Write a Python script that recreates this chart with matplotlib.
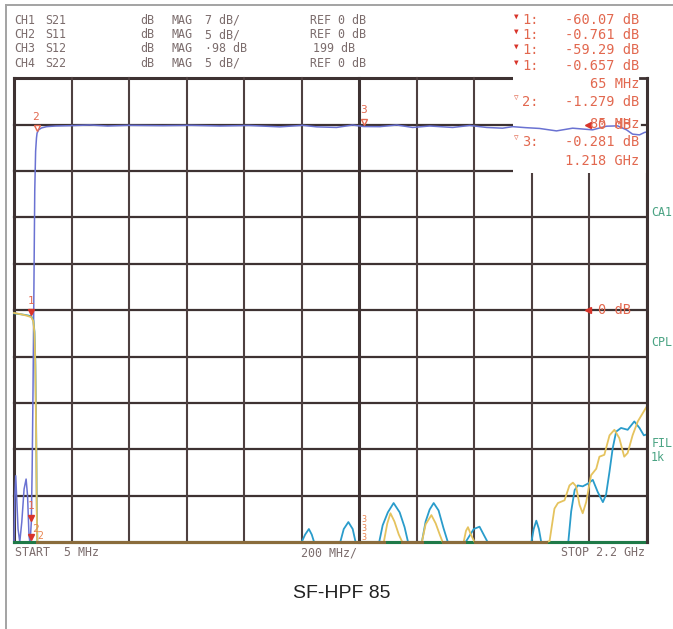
import numpy as np
import matplotlib
matplotlib.use('Agg')
import matplotlib.pyplot as plt
from matplotlib.transforms import offset_copy
from matplotlib.patches import Rectangle
from matplotlib.lines import Line2D

# sweep: 5 MHz .. 2.2 GHz, 11 divisions, 10 vertical divisions
f_start, f_stop = 5, 2200

# CH1 S21, 7 dB/div, ref 0 dB on division 9
s21_freq = [5, 8, 11, 14, 19, 25, 32, 40, 47, 52, 57, 60, 63, 65, 68,
            71, 74, 77, 80, 83, 85, 90, 100, 118, 150, 200, 268, 330, 400, 521,
            620, 720, 820, 927, 1007, 1055, 1124, 1180, 1218, 1274, 1333, 1388, 1447, 1527, 1586,
            1645, 1700, 1735, 1780, 1828, 1887, 1943, 2012, 2061, 2099, 2130, 2151, 2175, 2192, 2200]
s21_db = [-63.5, -56, -53, -56, -61, -64, -60, -55, -53.5, -56, -62, -64, -61.5, -60.07, -52,
          -40, -25, -10, -4, -2, -1.279, -0.8, -0.5, -0.3, -0.2, -0.15, -0.05, -0.2, -0.1, -0.15,
          -0.1, -0.2, -0.12, -0.33, -0.1, -0.33, -0.42, -0.05, -0.281, -0.3, -0.05, -0.42, -0.2, -0.42, -0.12,
          -0.42, -0.53, -0.3, -0.45, -0.57, -0.94, -0.53, -0.78, -0.23, -0.18, -0.78, -1.43, -1.54, -1.18, -1.1]

# CH2 S11, 5 dB/div, ref 0 dB on division 5
s11_freq = [5, 30, 50, 65, 72, 76, 79, 82, 84, 86,
            1278, 1288, 1300, 1311, 1325, 1340, 1352, 1360,
            1410, 1420, 1433, 1453, 1468, 1482, 1492, 1500,
            1555, 1565, 1573, 1580, 1590, 1603, 1610,
            1852, 1863, 1880, 1892, 1915, 1932, 1944, 1955, 1967, 1978, 1990,
            2007, 2025, 2036, 2053, 2071, 2088, 2105, 2122, 2134, 2151, 2169, 2200]
s11_db = [-0.3, -0.45, -0.6, -0.761, -1.2, -2.5, -6, -14, -22, -30,
          -30, -25, -23.0, -21.9, -22.8, -24.2, -25.2, -30,
          -30, -25, -23.1, -22.1, -23.0, -24.2, -25.3, -30,
          -30, -25, -23.8, -23.4, -24.2, -25.3, -30,
          -30, -24.9, -21.4, -20.8, -20.5, -18.9, -18.6, -19.0, -21.0, -21.9, -20.7,
          -17.8, -17.1, -15.8, -15.6, -13.5, -12.9, -13.8, -15.8, -15.4, -13.5, -12.0, -10.4]

# CH4 S22, 5 dB/div, ref 0 dB on division 5
s22_freq = [5, 30, 50, 65, 72, 76, 79, 82, 84, 86,
            994, 1003, 1015, 1028, 1038, 1046, 1052,
            1128, 1137, 1149, 1165, 1180, 1190, 1198,
            1262, 1272, 1284, 1302, 1322, 1343, 1360, 1372, 1382,
            1410, 1420, 1433, 1447, 1461, 1478, 1495, 1510, 1520,
            1572, 1582, 1600, 1620, 1636, 1648, 1656,
            1792, 1800, 1808, 1817, 1826, 1834, 1842,
            1918, 1928, 1938, 1950, 1961, 1978, 1996, 2013, 2030, 2048,
            2059, 2071, 2082, 2094, 2111, 2134, 2157, 2175, 2190, 2200]
s22_db = [-0.35, -0.45, -0.55, -0.657, -1.1, -2.3, -5.5, -13, -21, -30,
          -30, -25, -24.2, -23.6, -24.2, -25, -30,
          -30, -25, -23.6, -22.85, -23.6, -25, -30,
          -30, -25, -23.2, -21.8, -20.8, -21.8, -23.4, -25, -30,
          -30, -25, -22.8, -21.5, -20.8, -21.6, -23.5, -25, -30,
          -30, -24.5, -23.6, -23.35, -24.3, -25, -30,
          -30, -25, -23.6, -22.7, -23.6, -25, -30,
          -30, -25, -21.7, -19.4, -18.9, -19.0, -18.7, -18.3, -19.6, -20.7,
          -19.9, -17.4, -14.9, -13.1, -12.7, -12.9, -12.0, -12.7, -13.5, -13.4]

# CH3 S12 sits below the screen the whole sweep
s12_freq = [5, 2200]
s12_db = [-70, -70]

W, H = 673, 629
grid_c = '#3e3232'
red = '#d8342a'
red_txt = '#e2684f'
org = '#e8844f'
gray_txt = '#7b6c6c'
green_txt = '#4aa383'
mono = ['DejaVu Sans Mono', 'DejaVu Sans']


def to_div(db, ref_div, per_div):
    return np.clip(ref_div + np.asarray(db, dtype=float) / per_div, 0, 10)


fig = plt.figure(figsize=(W / 100, H / 100), dpi=100)
ax = fig.add_axes([14 / W, 1 - 542 / H, (646.7 - 14) / W, (542 - 78.3) / H])
ax.set_xlim(f_start, f_stop)
ax.set_ylim(0, 10)
ax.axis('off')

# graticule
for k in range(11):
    ax.axhline(k, color=grid_c, lw=2.2 if k in (0, 10) else 1.6, zorder=1, clip_on=False)
for k, xv in enumerate(np.linspace(f_start, f_stop, 12)):
    lw = 2.2 if k in (0, 6) else 1.5
    ax.axvline(xv, color=grid_c if k in (0, 6) else '#4e4040', lw=lw, zorder=1, clip_on=False)

# marker readout box hides the graticule top right
ax.add_patch(Rectangle((1736, 7.955), f_stop - 1736, 3.0, facecolor='white',
                       edgecolor='none', zorder=2, clip_on=False))
ax.axvline(f_stop, color=grid_c, lw=2.2, zorder=5, clip_on=False)
ax.plot([2178, f_stop], [10, 10], color=grid_c, lw=2.0, zorder=5, clip_on=False)
ax.plot([2182, f_stop], [9, 9], color=grid_c, lw=1.6, zorder=5, clip_on=False)

# traces
y21 = to_div(s21_db, 9, 7)
y11 = to_div(s11_db, 5, 5)
y22 = to_div(s22_db, 5, 5)
y12 = to_div(s12_db, 5, 5)
ax.plot(s21_freq, y21, color='#6a72d2', lw=1.1, zorder=3, clip_on=False)
ax.plot(s22_freq, y22, color='#2a9ccb', lw=1.3, zorder=3.1, clip_on=False)
ax.plot(s12_freq, y12, color='#1f7a48', lw=2.2, zorder=3.4, clip_on=False)
ax.plot(s11_freq, y11, color='#e5c35e', lw=1.3, zorder=3.5, clip_on=False)
floor11 = np.where(y11 <= 0, 0.0, np.nan)
ax.plot(s11_freq, floor11, color='#8a6c3c', lw=2.2, zorder=3.6, clip_on=False)

# markers
tr_up = offset_copy(ax.transData, fig=fig, x=0, y=3.5, units='points')


def marker(f, y, filled, color, label, dx=0, dy=8, lcol=None):
    ax.plot([f], [y], ls='none', marker='v', ms=5, mfc=color if filled else 'white',
            mec=color, mew=1, transform=tr_up, clip_on=False, zorder=6)
    if label:
        ax.annotate(label, (f, y), xytext=(dx, dy), textcoords='offset points',
                    ha='center', va='bottom', fontsize=8, color=lcol or color,
                    family=mono, zorder=6)


marker(65, to_div(-60.07, 9, 7), True, red, '1', lcol=red_txt)
marker(65, to_div(-0.761, 5, 5), True, red, '1', lcol=red_txt)
marker(65, 0, True, red, '2', dx=3, dy=6, lcol=org)
marker(85, to_div(-1.279, 9, 7), False, red_txt, '2', dx=-1)
marker(1218, to_div(-0.281, 9, 7), False, red_txt, '3')
for dy in (0, 6.5, 13):
    ax.annotate('3', (1218, 0), xytext=(0, dy), textcoords='offset points', ha='center',
                va='bottom', fontsize=6, color=org, family=mono, zorder=6)
ax.annotate('2', (85, 0), xytext=(2, 1), textcoords='offset points', ha='center',
            va='bottom', fontsize=7, color=org, family=mono, zorder=6)

# reference level pointers
for ref in (9, 5):
    ax.plot([1996], [ref], ls='none', marker='<', ms=5, color=red, zorder=6, clip_on=False)
    ax.annotate('0 dB', (1996, ref), xytext=(7, 0), textcoords='offset points',
                va='center', fontsize=9.8, color=red_txt, family=mono, zorder=6)

# side labels
ytr = ax.get_yaxis_transform()
for txt, yv in [('CA1', 7.11), ('CPL', 4.31), ('FIL', 2.13), ('1k', 1.83)]:
    ax.text(1.007, yv, txt, transform=ytr, fontsize=8.4, color=green_txt,
            family=mono, va='center', clip_on=False)


def ftext(x, y, s, **kw):
    kw.setdefault('family', mono)
    kw.setdefault('va', 'center')
    fig.text(x / W, 1 - y / H, s, **kw)


# channel header
rows = [('CH1', 'S21', '7 dB/', 'REF 0 dB'),
        ('CH2', 'S11', '5 dB/', 'REF 0 dB'),
        ('CH3', 'S12', '\u00b798 dB', '199 dB'),
        ('CH4', 'S22', '5 dB/', 'REF 0 dB')]
for i, (ch, sp, sc, ref) in enumerate(rows):
    yy = 20 + i * 14.5
    for x, s in [(14, ch), (45, sp), (140, 'dB'), (171, 'MAG'), (205, sc),
                 (313 if ref == '199 dB' else 310, ref)]:
        ftext(x, yy, s, fontsize=8.4, color=gray_txt)

# marker readout
vals = ['-60.07 dB', '-0.761 dB', '-59.29 dB', '-0.657 dB', '65 MHz',
        '-1.279 dB', '85 MHz', '-0.281 dB', '1.218 GHz']
vys = [20, 35, 50, 65.7, 84.3, 101.7, 124, 141.7, 161]
for s, yy in zip(vals, vys):
    ftext(639, yy, s, fontsize=9.8, color=red_txt, ha='right')
for yy in vys[:4]:
    ftext(514, yy - 4, '\u25bc', fontsize=5.5, color=red)
    ftext(522, yy, '1:', fontsize=9.8, color=red_txt)
for yy, n in [(101.7, '2:'), (141.7, '3:')]:
    ftext(514, yy - 4, '\u25bd', fontsize=5.5, color=red_txt)
    ftext(522, yy, n, fontsize=9.8, color=red_txt)

# sweep labels
ftext(15, 553, 'START  5 MHz', fontsize=8.4, color=gray_txt)
ftext(301, 553, '200 MHz/', fontsize=8.4, color=gray_txt)
ftext(645, 553, 'STOP 2.2 GHz', fontsize=8.4, color=gray_txt, ha='right')

ftext(342, 593, 'SF-HPF 85', fontsize=14, color='#222222', ha='center',
      family=['Liberation Sans Narrow', 'Liberation Sans', 'DejaVu Sans'])

# outer frame
fig.add_artist(Line2D([6 / W, 6 / W], [0, 1 - 5 / H], color='#a3a3a3', lw=1.4))
fig.add_artist(Line2D([6 / W, 1], [1 - 5 / H, 1 - 5 / H], color='#a3a3a3', lw=1.4))

fig.savefig('out.png', dpi=100, facecolor='white')
